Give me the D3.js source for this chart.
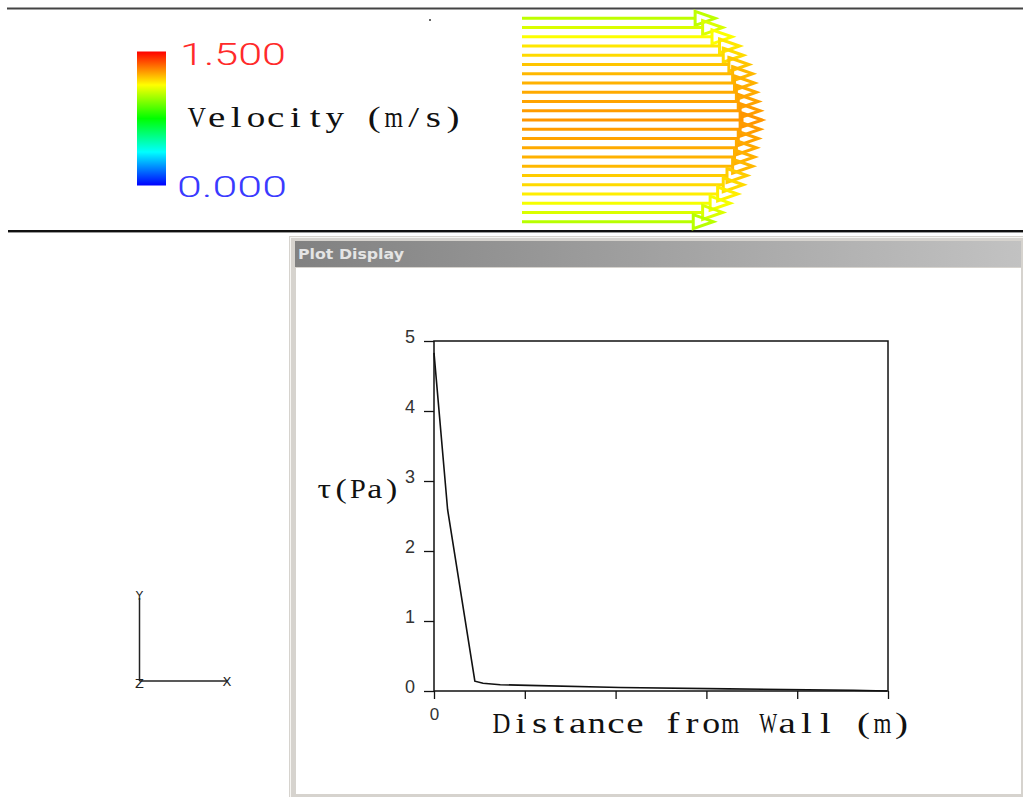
<!DOCTYPE html>
<html>
<head>
<meta charset="utf-8">
<script src="https://cdn.jsdelivr.net/npm/d3@7"></script>
<style>
  body { margin: 0; background: #fff; }
  svg { display: block; }
</style>
</head>
<body>
<script>
// Velocity vectors across the channel section (m/s), listed from the top row to the bottom row
const vectorVelocity = [1.03, 1.07, 1.12, 1.16, 1.18, 1.21, 1.23, 1.24, 1.25, 1.26, 1.27, 1.28,
                        1.27, 1.26, 1.25, 1.24, 1.23, 1.20, 1.18, 1.15, 1.11, 1.07, 1.02];
// Colour legend
const legendRange = [0, 1.5];
const legendStops = ["#0000ff", "#00ffff", "#00ff00", "#ffff00", "#ff0000"];
const legendLabels = ["0.000", "1.500"];
const legendTitle = "Velocity (m/s)";

// Wall shear stress against distance from the wall
const distance = [0, 0.015, 0.045, 0.054, 0.073, 0.104, 0.205, 0.324, 0.462, 0.499];
const shear    = [4.83, 2.59, 0.14, 0.11, 0.09, 0.08, 0.05, 0.03, 0.01, 0.0];
const yTicks = [0, 1, 2, 3, 4, 5];
const xTicks = [0, 0.1, 0.2, 0.3, 0.4, 0.5];
const xTickLabels = ["0", "", "", "", "", ""];
const xTitle = "Distance from Wall (m)";
const yTitle = "τ(Pa)";
const windowTitle = "Plot Display";

const W = 1023, H = 797;
const svg = d3.select("body").append("svg").attr("width", W).attr("height", H);
const defs = svg.append("defs");

// fixed-pitch serif text: each character centred in its own cell,
// widened by up to sx but never wider than the cell
function monoText(parent, x0, y0, str, cell, size, fill, sx) {
  const g = parent.append("g").attr("class", "mono-label");
  Array.from(str).forEach((ch, i) => {
    if (ch === " ") return;
    const t = g.append("text")
      .attr("font-family", "'Liberation Serif', 'Times New Roman', serif")
      .attr("font-size", size).attr("fill", fill).attr("text-anchor", "middle")
      .text(ch);
    const w = t.node().getComputedTextLength() || 1;
    const s = Math.min(sx, (cell * 0.94) / w);
    t.attr("transform", `translate(${x0 + cell * (i + 0.5)},${y0}) scale(${s},1)`);
  });
  return g;
}

// ---------- colour scale shared by the legend and the vectors ----------
const color = d3.scaleLinear()
  .domain(d3.range(legendStops.length).map(i => legendRange[0] + i * (legendRange[1] - legendRange[0]) / (legendStops.length - 1)))
  .range(legendStops);

const cbGrad = defs.append("linearGradient").attr("id", "cbar")
  .attr("x1", 0).attr("y1", 1).attr("x2", 0).attr("y2", 0);
legendStops.forEach((c, i) => cbGrad.append("stop")
  .attr("offset", i / (legendStops.length - 1)).attr("stop-color", c));

const tGrad = defs.append("linearGradient").attr("id", "titlebar")
  .attr("x1", 0).attr("y1", 0).attr("x2", 1).attr("y2", 0);
tGrad.append("stop").attr("offset", 0).attr("stop-color", "#818181");
tGrad.append("stop").attr("offset", 1).attr("stop-color", "#c2c2c2");

// ---------- upper viewport ----------
svg.append("line").attr("x1", 7).attr("x2", W).attr("y1", 8.5).attr("y2", 8.5)
  .attr("stroke", "#444").attr("stroke-width", 2);
svg.append("line").attr("x1", 8).attr("x2", W).attr("y1", 231).attr("y2", 231)
  .attr("stroke", "#111").attr("stroke-width", 2);
svg.append("line").attr("x1", 8).attr("x2", W).attr("y1", 232.5).attr("y2", 232.5)
  .attr("stroke", "#9a9a9a").attr("stroke-width", 1);
svg.append("rect").attr("x", 429).attr("y", 19).attr("width", 2).attr("height", 2).attr("fill", "#666");

// legend bar
const cb = { x: 137, y: 51.5, w: 29, h: 134 };
svg.append("rect").attr("x", cb.x).attr("y", cb.y).attr("width", cb.w).attr("height", cb.h)
  .attr("fill", "url(#cbar)");

const numFont = "Roboto, 'Open Sans', 'Liberation Sans', sans-serif";
svg.append("text").attr("x", 180).attr("y", 65).text(legendLabels[1])
  .attr("font-family", numFont).attr("font-weight", 300).attr("font-size", 32)
  .attr("fill", "#ff2a2a")
  .attr("textLength", 106).attr("lengthAdjust", "spacingAndGlyphs");
svg.append("text").attr("x", 177).attr("y", 197).text(legendLabels[0])
  .attr("font-family", numFont).attr("font-weight", 300).attr("font-size", 30)
  .attr("fill", "#3a3aff")
  .attr("textLength", 110).attr("lengthAdjust", "spacingAndGlyphs");
monoText(svg, 187, 127, legendTitle, 19.7, 30, "#111", 1.3);

// velocity vectors
const rowY = d3.scalePoint().domain(d3.range(vectorVelocity.length)).range([18.3, 221.7]);
const vLen = d3.scaleLinear().domain([0, 1]).range([0, 187.5]);
const x0 = 522, headL = 20, headW = 7;
const vec = svg.append("g");
vectorVelocity.forEach((u, i) => {
  const yy = rowY(i), tip = x0 + vLen(u), c = color(u);
  vec.append("line").attr("x1", x0).attr("x2", tip - headL).attr("y1", yy).attr("y2", yy)
    .attr("stroke", c).attr("stroke-width", 3);
  vec.append("path")
    .attr("d", `M${tip - headL},${yy - headW}L${tip},${yy}L${tip - headL},${yy + headW}Z`)
    .attr("fill", "none").attr("stroke", c).attr("stroke-width", 3).attr("stroke-linejoin", "miter");
});

// ---------- plot window ----------
svg.append("rect").attr("x", 289).attr("y", 236).attr("width", W - 289).attr("height", H - 236)
  .attr("fill", "#d6d3ce");
svg.append("rect").attr("x", 290).attr("y", 237).attr("width", 1).attr("height", H - 237).attr("fill", "#f6f5f2");
svg.append("rect").attr("x", 290).attr("y", 237).attr("width", W - 290).attr("height", 1).attr("fill", "#f6f5f2");
svg.append("rect").attr("x", 295).attr("y", 241).attr("width", W - 297).attr("height", 26)
  .attr("fill", "url(#titlebar)");
svg.append("rect").attr("x", 296).attr("y", 268).attr("width", W - 298).attr("height", 526)
  .attr("fill", "#fff");
svg.append("text").attr("x", 298).attr("y", 259).text(windowTitle)
  .attr("font-family", "'DejaVu Sans', Verdana, sans-serif").attr("font-weight", "bold")
  .attr("font-size", 13.5).attr("fill", "#e4e4e4")
  .attr("textLength", 106).attr("lengthAdjust", "spacingAndGlyphs");

// axes frame
const x = d3.scaleLinear().domain([0, 0.5]).range([434, 888]);
const y = d3.scaleLinear().domain([0, 5]).range([691, 341]);

svg.append("rect").attr("x", x(0)).attr("y", y(5))
  .attr("width", x(0.5) - x(0)).attr("height", y(0) - y(5))
  .attr("fill", "none").attr("stroke", "#111").attr("stroke-width", 1.5);

const gy = svg.append("g").attr("transform", `translate(${x(0)},0)`)
  .call(d3.axisLeft(y).tickValues(yTicks).tickFormat(d3.format("d")).tickSize(10).tickPadding(9).tickSizeOuter(0));
gy.select(".domain").remove();
gy.selectAll(".tick line").attr("stroke", "#111").attr("stroke-width", 1.3);
gy.selectAll(".tick text").attr("font-family", "'Liberation Sans', Arial, sans-serif")
  .attr("font-size", 18).attr("fill", "#333").attr("dy", "0.1em");

const gx = svg.append("g").attr("transform", `translate(0,${y(0)})`)
  .call(d3.axisBottom(x).tickValues(xTicks).tickFormat((d, i) => xTickLabels[i]).tickSize(8).tickPadding(9).tickSizeOuter(0));
gx.select(".domain").remove();
gx.selectAll(".tick line").attr("stroke", "#111").attr("stroke-width", 1.3);
gx.selectAll(".tick text").attr("font-family", "'Liberation Sans', Arial, sans-serif")
  .attr("font-size", 17).attr("fill", "#333");

// shear stress curve
svg.append("path")
  .datum(distance.map((d, i) => [d, shear[i]]))
  .attr("d", d3.line().x(d => x(d[0])).y(d => y(d[1])))
  .attr("fill", "none").attr("stroke", "#111").attr("stroke-width", 1.6);

// axis titles
monoText(svg, 492, 733, xTitle, 19.05, 30, "#111", 1.3);
monoText(svg, 316, 498, yTitle, 16.8, 27, "#111", 1.25);

// ---------- view orientation triad ----------
const triad = svg.append("g").attr("stroke", "#222").attr("stroke-width", 1.5);
triad.append("line").attr("x1", 139.5).attr("x2", 139.5).attr("y1", 598).attr("y2", 681);
triad.append("line").attr("x1", 139.5).attr("x2", 227).attr("y1", 681).attr("y2", 681);
const triFont = "'DejaVu Sans', sans-serif";
svg.append("text").attr("x", 139.5).attr("y", 600).attr("text-anchor", "middle").text("Y")
  .attr("font-family", triFont).attr("font-size", 12).attr("fill", "#222");
svg.append("text").attr("x", 227).attr("y", 686).attr("text-anchor", "middle").text("X")
  .attr("font-family", triFont).attr("font-size", 13).attr("fill", "#222");
svg.append("text").attr("x", 139.5).attr("y", 688).attr("text-anchor", "middle").text("Z")
  .attr("font-family", triFont).attr("font-size", 13).attr("fill", "#222");
</script>
</body>
</html>
